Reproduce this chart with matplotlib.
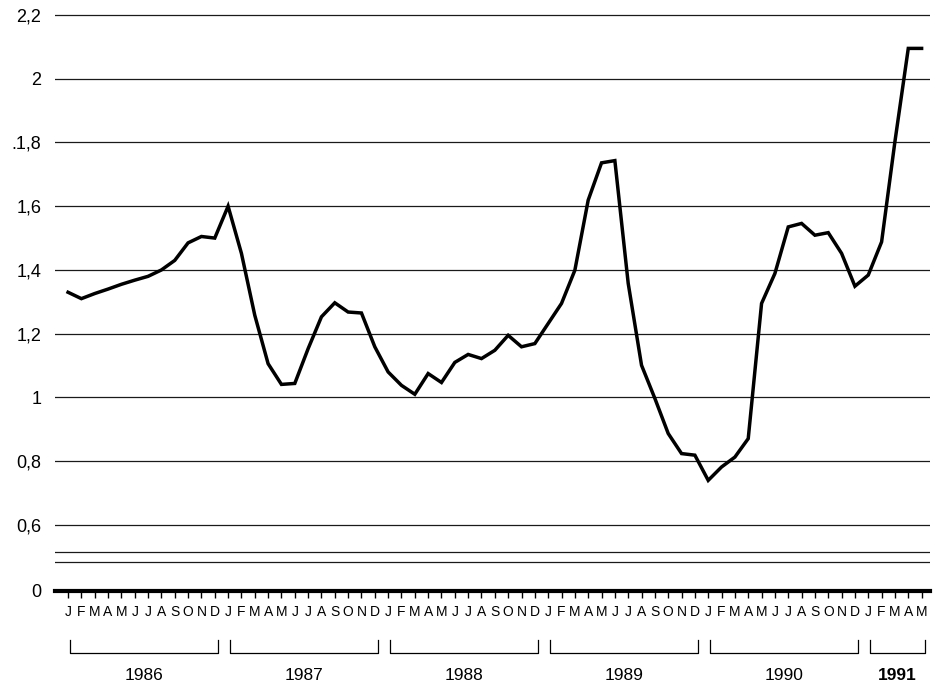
import matplotlib
matplotlib.use("Agg")
import matplotlib.pyplot as plt
import matplotlib.transforms as mtransforms
import numpy as np

plt.rcParams["font.family"] = ["Liberation Sans", "DejaVu Sans"]

# monthly values, Jan 1986 .. May 1991
values = [
    1.33, 1.31, 1.326, 1.34, 1.355, 1.368, 1.38, 1.40, 1.43, 1.485, 1.505, 1.50,   # 1986
    1.60, 1.452, 1.258, 1.106, 1.041, 1.044, 1.153, 1.253, 1.297, 1.268, 1.265, 1.159,  # 1987
    1.08, 1.038, 1.010, 1.075, 1.047, 1.110, 1.135, 1.122, 1.148, 1.195, 1.159, 1.169,  # 1988
    1.232, 1.295, 1.399, 1.619, 1.736, 1.743, 1.358, 1.101, 0.997, 0.887, 0.824, 0.819,  # 1989
    0.740, 0.782, 0.813, 0.871, 1.295, 1.389, 1.535, 1.546, 1.509, 1.517, 1.452, 1.349,  # 1990
    1.384, 1.488, 1.803, 2.095, 2.095,  # 1991
]
month_letters = ["J", "F", "M", "A", "M", "J", "J", "A", "S", "O", "N", "D"] * 5 + ["J", "F", "M", "A", "M"]
years = ["1986", "1987", "1988", "1989", "1990", "1991"]
year_months = [12, 12, 12, 12, 12, 5]

y_ticks = [0.6, 0.8, 1.0, 1.2, 1.4, 1.6, 1.8, 2.0, 2.2]
y_labels = ["0,6", "0,8", "1", "1,2", "1,4", "1,6", ".1,8", "2", "2,2"]

# broken axis: the "0" line is drawn just below the 0,6 line
zero_pos = 0.393
break_lines = [0.484, 0.515]

fig = plt.figure(figsize=(9.33, 6.84), dpi=100)
ax = fig.add_axes([0.059, 0.136, 0.9378, 0.8515])

x = np.arange(len(values))
for yv in y_ticks + break_lines:
    ax.axhline(yv, color="#1a1a1a", lw=0.9, zorder=1)

ax.plot(x, values, color="black", lw=2.5, solid_joinstyle="miter", zorder=3)

ax.set_xlim(-0.975, 64.63)
ax.set_ylim(zero_pos, 2.22)

ax.set_yticks([zero_pos] + y_ticks)
ax.set_yticklabels(["0"] + y_labels, fontsize=13)
ax.tick_params(axis="y", length=0, pad=10)

ax.set_xticks(x)
ax.set_xticklabels(month_letters, fontsize=10.5)
ax.tick_params(axis="x", direction="out", length=5, width=1, pad=5, color="black")

for s in ["top", "right", "left"]:
    ax.spines[s].set_visible(False)
ax.spines["bottom"].set_linewidth(3)
ax.spines["bottom"].set_position(("data", zero_pos))

# year brackets
trans = mtransforms.blended_transform_factory(ax.transData, ax.transAxes)
start = 0
for yr, n in zip(years, year_months):
    x0 = start + 0.15
    x1 = start + n - 1 + 0.25
    ax.plot([x0, x0, x1, x1], [-0.084, -0.1065, -0.1065, -0.084],
            color="black", lw=0.9, transform=trans, clip_on=False)
    ax.text((x0 + x1) / 2, -0.145, yr, transform=trans, ha="center", va="center",
            fontsize=12.5, fontweight="bold" if yr == "1991" else "normal")
    start += n

fig.savefig("out.png", dpi=100)
